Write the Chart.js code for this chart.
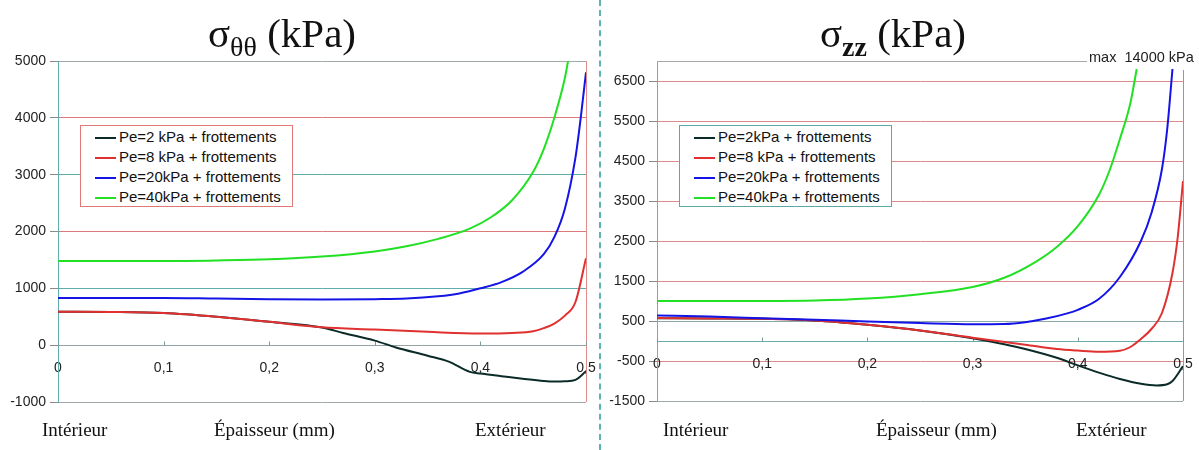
<!DOCTYPE html>
<html>
<head>
<meta charset="utf-8">
<script src="https://cdn.jsdelivr.net/npm/chart.js@4/dist/chart.umd.min.js"></script>
<style>
body { margin: 0; width: 1199px; height: 450px; background: #fff; position: relative; overflow: hidden;
       font-family: "Liberation Sans", Arial, sans-serif; }
canvas { position: absolute; top: 0; }
#thetaChart { left: 0; }
#zzChart { left: 603px; }
.divider { position: absolute; left: 599px; top: 0; height: 450px; border-left: 2px dashed #5fb3b3; }
.title { position: absolute; top: 13px; font-family: "Liberation Serif", "Times New Roman", serif;
         font-size: 41px; line-height: 40px; color: #111; white-space: nowrap; text-align: center; }
.title sub { font-size: 28px; vertical-align: -9px; line-height: 0; }
.lbl { position: absolute; top: 419px; font-family: "Liberation Serif", serif; font-size: 19px;
       line-height: 22px; color: #111; white-space: nowrap; }
.legend { position: absolute; background: #fff; font-size: 15px; color: #111; box-sizing: border-box;
          padding-top: 1px; }
.legend div { height: 20px; line-height: 20px; white-space: nowrap; }
.legend span { display: inline-block; width: 21px; height: 2px; vertical-align: middle; margin-right: 3px; }
.maxnote { position: absolute; left: 1089px; top: 49px; font-size: 14.5px; color: #222; white-space: nowrap; }
</style>
</head>
<body>
<canvas id="thetaChart" width="598" height="450"></canvas>
<canvas id="zzChart" width="596" height="450"></canvas>
<div class="divider"></div>

<div class="title" style="left:182px;width:200px">σ<sub>θθ</sub> (kPa)</div>
<div class="title" style="left:793px;width:200px">σ<sub style="font-weight:bold">zz</sub> (kPa)</div>

<div class="lbl" style="left:42px">Intérieur</div>
<div class="lbl" style="left:214px">Épaisseur (mm)</div>
<div class="lbl" style="left:475px">Extérieur</div>
<div class="lbl" style="left:663px">Intérieur</div>
<div class="lbl" style="left:876px">Épaisseur (mm)</div>
<div class="lbl" style="left:1076px">Extérieur</div>

<div class="maxnote">max&nbsp; 14000 kPa</div>

<div id="thetaLegend" class="legend" style="left:80px;top:125px;width:213px;height:82px;border:1px solid #e07878;padding-left:14px"></div>
<div id="zzLegend" class="legend" style="left:679px;top:125px;width:213px;height:82px;border:1px solid #5aa8a8;padding-left:14px"></div>

<script>
// ---- axes ----
const xTicks = [0, 0.1, 0.2, 0.3, 0.4, 0.5];
const xTickLabels = ['0', '0,1', '0,2', '0,3', '0,4', '0,5'];
const thetaYTicks = [-1000, 0, 1000, 2000, 3000, 4000, 5000];
const zzYTicks = [-1500, -500, 500, 1500, 2500, 3500, 4500, 5500, 6500];

// ---- sigma theta-theta (left) ----
const thetaLabels = ['Pe=2 kPa + frottements', 'Pe=8 kPa + frottements', 'Pe=20kPa + frottements', 'Pe=40kPa + frottements'];
const blackThetaX = [0, 0.05, 0.1, 0.15, 0.2, 0.25, 0.27, 0.3, 0.32, 0.35, 0.37, 0.39, 0.4, 0.42, 0.44, 0.46, 0.47, 0.48, 0.49, 0.5];
const blackThetaY = [590, 585, 565, 500, 410, 310, 215, 80, -40, -185, -290, -470, -500, -545, -590, -630, -640, -635, -610, -460];
const redThetaX = [0, 0.05, 0.1, 0.15, 0.2, 0.25, 0.3, 0.35, 0.4, 0.43, 0.45, 0.46, 0.47, 0.48, 0.49, 0.5];
const redThetaY = [590, 585, 565, 500, 410, 315, 275, 235, 205, 215, 245, 300, 380, 520, 760, 1530];
const blueThetaX = [0, 0.05, 0.1, 0.15, 0.2, 0.25, 0.3, 0.33, 0.36, 0.38, 0.4, 0.42, 0.44, 0.46, 0.47, 0.48, 0.49, 0.495, 0.5];
const blueThetaY = [830, 830, 830, 820, 810, 805, 810, 820, 860, 910, 1000, 1110, 1290, 1600, 1900, 2400, 3300, 4000, 4800];
const greenThetaX = [0, 0.05, 0.1, 0.15, 0.2, 0.25, 0.3, 0.33, 0.36, 0.39, 0.41, 0.43, 0.45, 0.46, 0.47, 0.48, 0.483];
const greenThetaY = [1480, 1480, 1480, 1490, 1510, 1560, 1650, 1740, 1870, 2050, 2250, 2550, 3050, 3450, 4000, 4700, 5000];

// ---- sigma zz (right) ----
const zzLabels = ['Pe=2kPa + frottements', 'Pe=8 kPa + frottements', 'Pe=20kPa + frottements', 'Pe=40kPa + frottements'];
const blackZzX = [0, 0.05, 0.1, 0.15, 0.2, 0.25, 0.3, 0.33, 0.35, 0.38, 0.4, 0.42, 0.44, 0.46, 0.475, 0.485, 0.49, 0.5];
const blackZzY = [570, 565, 554, 512, 405, 264, 70, -80, -200, -420, -610, -790, -950, -1070, -1110, -1080, -1000, -630];
const redZzX = [0, 0.05, 0.1, 0.15, 0.2, 0.25, 0.3, 0.35, 0.38, 0.4, 0.42, 0.44, 0.45, 0.46, 0.47, 0.48, 0.49, 0.495, 0.5];
const redZzY = [575, 565, 554, 512, 405, 264, 83, -91, -198, -240, -270, -245, -150, 50, 300, 700, 1700, 2600, 4000];
const blueZzX = [0, 0.05, 0.1, 0.15, 0.2, 0.25, 0.3, 0.33, 0.35, 0.37, 0.39, 0.4, 0.42, 0.44, 0.46, 0.47, 0.48, 0.485, 0.49];
const blueZzY = [640, 610, 570, 530, 490, 450, 420, 425, 470, 560, 690, 780, 1050, 1600, 2500, 3200, 4300, 5300, 6800];
const greenZzX = [0, 0.05, 0.1, 0.15, 0.2, 0.25, 0.3, 0.33, 0.36, 0.38, 0.4, 0.42, 0.43, 0.44, 0.45, 0.456];
const greenZzY = [1000, 1000, 1000, 1010, 1060, 1170, 1350, 1580, 1980, 2350, 2870, 3650, 4250, 5050, 5950, 6800];

const lineColors = ['#0b2b28', '#e03030', '#1414e6', '#22e022'];

function pts(xs, ys) {
    return xs.map((x, i) => ({ x: x, y: ys[i] }));
}

function makeDatasets(labels, series) {
    return series.map((s, i) => ({
        label: labels[i],
        data: pts(s[0], s[1]),
        borderColor: lineColors[i],
        borderWidth: 2,
        pointRadius: 0,
        fill: false,
        cubicInterpolationMode: 'monotone',
        order: 4 - i
    }));
}

// borders, zero line and the small upward ticks on the zero line
const decor = {
    id: 'decor',
    beforeDatasetsDraw(chart, args, opts) {
        const { ctx, chartArea: a, scales } = chart;
        const y0 = Math.round(scales.y.getPixelForValue(0)) + 0.5;
        ctx.save();
        ctx.lineWidth = 1;
        ctx.strokeStyle = opts.zeroColor;
        ctx.beginPath();
        ctx.moveTo(a.left, y0);
        ctx.lineTo(a.right, y0);
        ctx.stroke();
        ctx.strokeStyle = opts.rightColor;
        ctx.beginPath();
        ctx.moveTo(Math.round(a.right) + 0.5, opts.rightTop || a.top);
        ctx.lineTo(Math.round(a.right) + 0.5, a.bottom);
        ctx.stroke();
        if (opts.topEnd) {
            ctx.strokeStyle = '#a8a8a8';
            ctx.beginPath();
            ctx.moveTo(a.left, Math.round(a.top) + 0.5);
            ctx.lineTo(opts.topEnd, Math.round(a.top) + 0.5);
            ctx.stroke();
        }
        ctx.strokeStyle = '#7a9a9a';
        ctx.beginPath();
        scales.x.ticks.forEach(t => {
            const px = Math.round(scales.x.getPixelForValue(t.value)) + 0.5;
            ctx.moveTo(px, y0);
            ctx.lineTo(px, y0 - 4);
        });
        ctx.stroke();
        ctx.restore();
    }
};

function makeChart(id, datasets, yTicks, yMin, yMax, yWidth, pad, gridColor, axisColor, decorOpts) {
    return new Chart(document.getElementById(id).getContext('2d'), {
        type: 'line',
        data: { datasets: datasets },
        options: {
            responsive: false,
            animation: false,
            layout: { padding: pad },
            scales: {
                x: {
                    type: 'linear',
                    position: { y: 0 },
                    min: 0,
                    max: 0.5,
                    afterBuildTicks: s => { s.ticks = xTicks.map(v => ({ value: v })); },
                    afterFit: s => { s.paddingLeft = 0; s.paddingRight = 0; },
                    grid: { display: false, drawTicks: false },
                    border: { display: false },
                    ticks: {
                        padding: 15,
                        maxRotation: 0,
                        autoSkip: false,
                        color: '#222',
                        font: { family: 'Liberation Sans', size: 14 },
                        callback: (v, i) => xTickLabels[i]
                    }
                },
                y: {
                    type: 'linear',
                    min: yMin,
                    max: yMax,
                    afterBuildTicks: s => { s.ticks = yTicks.map(v => ({ value: v })); },
                    afterFit: s => { s.width = yWidth; s.paddingTop = 0; s.paddingBottom = 0; },
                    grid: {
                        color: ctx => gridColor(ctx.tick ? ctx.tick.value : 0),
                        tickColor: '#8a8a8a',
                        tickLength: 8
                    },
                    border: { display: true, color: axisColor },
                    ticks: {
                        padding: 4,
                        autoSkip: false,
                        color: '#222',
                        font: { family: 'Liberation Sans', size: 14 },
                        callback: v => String(v)
                    }
                }
            },
            plugins: {
                legend: { display: false },
                tooltip: { enabled: false },
                decor: decorOpts
            }
        },
        plugins: [decor]
    });
}

function fillLegend(id, chart) {
    const box = document.getElementById(id);
    chart.data.datasets.forEach(ds => {
        const row = document.createElement('div');
        const sw = document.createElement('span');
        sw.style.background = ds.borderColor;
        row.appendChild(sw);
        row.appendChild(document.createTextNode(ds.label));
        box.appendChild(row);
    });
}

const thetaChart = makeChart('thetaChart',
    makeDatasets(thetaLabels, [[blackThetaX, blackThetaY], [redThetaX, redThetaY], [blueThetaX, blueThetaY], [greenThetaX, greenThetaY]]),
    thetaYTicks, -1000, 5000, 58,
    { left: 0, right: 12, top: 61, bottom: 48 },
    v => (v === 5000 || v === -1000 || v === 0) ? '#a0a8a8' : (v % 2000 === 0 ? '#dc7a7a' : '#5fadad'),
    '#5fadad',
    { zeroColor: '#94a4a4', rightColor: '#e28a8a' });

const zzChart = makeChart('zzChart',
    makeDatasets(zzLabels, [[blackZzX, blackZzY], [redZzX, redZzY], [blueZzX, blueZzY], [greenZzX, greenZzY]]),
    zzYTicks, -1500, 7000, 54,
    { left: 0, right: 16, top: 61, bottom: 49 },
    v => v === -1500 ? '#a0a8a8' : (v === 500 ? '#8aa8a8' : '#dc8a8a'),
    '#e08080',
    { zeroColor: '#6aabab', rightColor: '#6aabab', rightTop: 70, topEnd: 484 });

fillLegend('thetaLegend', thetaChart);
fillLegend('zzLegend', zzChart);
</script>
</body>
</html>
